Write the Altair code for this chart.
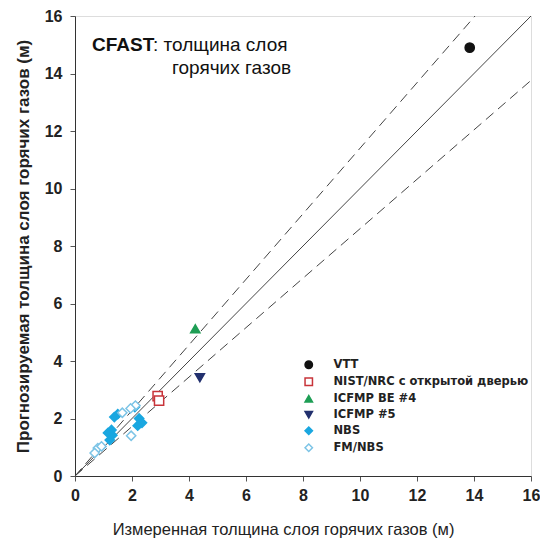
import altair as alt
import pandas as pd

# ---- data ----
series_names = ["VTT", "NIST/NRC с открытой дверью", "ICFMP BE #4", "ICFMP #5", "NBS", "FM/NBS"]
series_colors = ["#111111", "#c8343a", "#1e9e55", "#22306e", "#1aa7e0", "#7cc4e6"]
series_fills = ["#111111", "white", "#1e9e55", "#22306e", "#1aa7e0", "white"]
series_shapes = ["circle", "square", "triangle-up", "triangle-down", "diamond", "diamond"]

vtt_x = [13.85]; vtt_y = [14.9]
nist_x = [2.9, 2.95]; nist_y = [2.78, 2.62]
be4_x = [4.22]; be4_y = [5.12]
c5_x = [4.38]; c5_y = [3.42]
nbs_x = [2.1, 2.25, 2.35, 1.28, 1.31, 1.16, 1.5, 1.38, 2.2, 1.22]
nbs_y = [2.4, 2.0, 1.85, 1.6, 1.42, 1.5, 2.15, 2.05, 1.75, 1.25]
fm_x = [1.66, 1.97, 0.8, 0.69, 0.93, 2.12, 1.95]
fm_y = [2.2, 1.4, 0.97, 0.8, 1.03, 2.45, 2.35]

slopes = [1.14, 1.0, 0.86]
line_kind = ["dash", "solid", "dash"]
axis_max = 16
ticks = [0, 2, 4, 6, 8, 10, 12, 14, 16]

rows = []
for name, xs, ys in zip(series_names, [vtt_x, nist_x, be4_x, c5_x, nbs_x, fm_x],
                        [vtt_y, nist_y, be4_y, c5_y, nbs_y, fm_y]):
    for a, b in zip(xs, ys):
        rows.append({"x": a, "y": b, "s": name})
pts = pd.DataFrame(rows)

lrows = []
for i, (m, k) in enumerate(zip(slopes, line_kind)):
    lrows.append({"x": 0, "y": 0, "id": i, "k": k})
    xe = min(axis_max, axis_max / m)
    lrows.append({"x": xe, "y": xe * m, "id": i, "k": k})
lines = pd.DataFrame(lrows)

FONT = "Liberation Sans"
xs = alt.Scale(domain=[0, 16], nice=False, zero=True)
ys = alt.Scale(domain=[0, 16], nice=False, zero=True)

xaxis = alt.Axis(values=ticks, title="Измеренная толщина слоя горячих газов (м)", grid=False,
                 labelFont=FONT, labelFontSize=16, labelFontWeight="bold", labelColor="#222",
                 titleFont=FONT, titleFontSize=16.5, titleFontWeight="normal", titleColor="#222",
                 titleX=208, titleAlign="center",
                 tickSize=5, labelPadding=6, titlePadding=18, domainColor="#333", tickColor="#555",
                 labelFlush=False)
yaxis = alt.Axis(values=ticks, title="Прогнозируемая толщина слоя горячих газов (м)", grid=False,
                 labelFont=FONT, labelFontSize=16, labelFontWeight="bold", labelColor="#222",
                 titleFont=FONT, titleFontSize=17, titleFontWeight="bold", titleColor="#222",
                 tickSize=5, labelPadding=8, titlePadding=12, domainColor="#333", tickColor="#555",
                 labelFlush=False)

solid = alt.Chart(lines[lines.k == "solid"]).mark_line(color="#444", strokeWidth=1).encode(
    x=alt.X("x:Q", scale=xs, axis=xaxis), y=alt.Y("y:Q", scale=ys, axis=yaxis), detail="id:N")
dashed = alt.Chart(lines[lines.k == "dash"]).mark_line(color="#444", strokeWidth=1, strokeDash=[10, 6]).encode(
    x=alt.X("x:Q", scale=xs), y=alt.Y("y:Q", scale=ys), detail="id:N")

legend = alt.Legend(title=None, orient="none", legendX=228, legendY=343,
                    labelFont="DejaVu Sans", labelFontSize=11.5, labelFontWeight="bold", labelColor="#222",
                    symbolSize=55, symbolStrokeWidth=1.5, rowPadding=3, labelOffset=19, labelLimit=300)

points = alt.Chart(pts).mark_point(size=85, strokeWidth=1.5, opacity=1, fillOpacity=1).encode(
    x=alt.X("x:Q", scale=xs), y=alt.Y("y:Q", scale=ys),
    color=alt.Color("s:N", scale=alt.Scale(domain=series_names, range=series_colors), legend=legend, sort=series_names),
    fill=alt.Fill("s:N", scale=alt.Scale(domain=series_names, range=series_fills), legend=legend, sort=series_names),
    shape=alt.Shape("s:N", scale=alt.Scale(domain=series_names, range=series_shapes), legend=legend, sort=series_names),
)

ann = pd.DataFrame({
    "t": ["CFAST", ": толщина слоя", "горячих газов"],
    "px": [17, 78, 97],
    "py": [29, 29, 52],
    "w": ["bold", "normal", "normal"],
    "fs": [19, 19, 19],
})
texts = []
for _, r in ann.iterrows():
    texts.append(alt.Chart(pd.DataFrame({"t": [r.t]})).mark_text(
        align="left", baseline="middle", font=FONT, fontSize=float(r.fs), fontWeight=r.w, color="#111").encode(
        x=alt.value(int(r.px)), y=alt.value(int(r.py)), text="t:N"))

chart = alt.layer(dashed, solid, points, *texts).properties(
    width=456, height=460,
    autosize=alt.AutoSizeParams(type="none"),
    padding={"left": 67, "top": 8, "right": 9, "bottom": 64},
).configure_view(stroke="#666", strokeWidth=1).configure(background="white")

chart.save("out.html", embed_options={"renderer": "svg", "actions": False})
